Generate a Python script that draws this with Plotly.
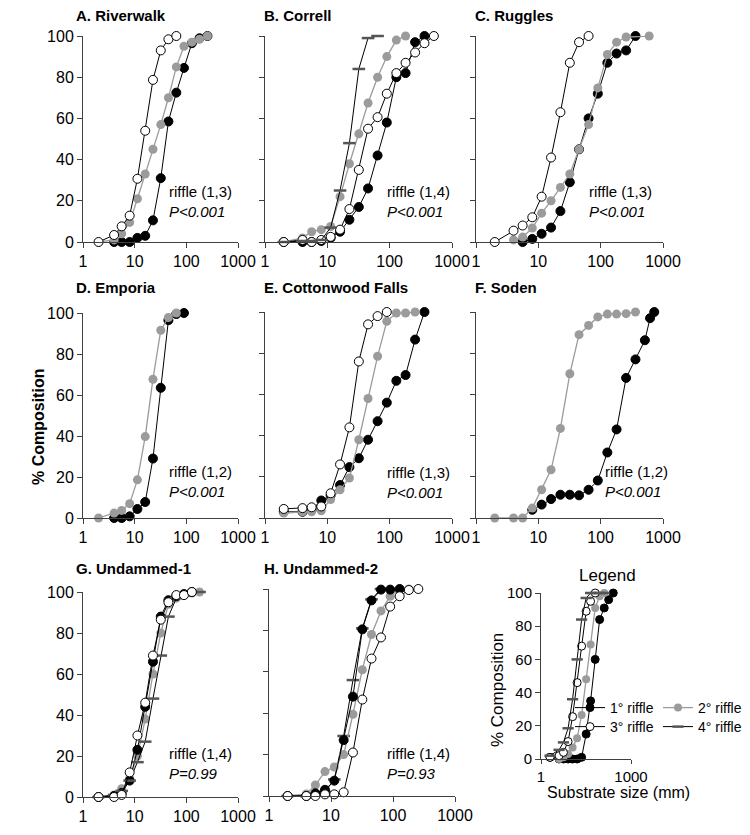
import plotly.graph_objects as go

W, H = 750, 835
FONT = "Arial, Liberation Sans, sans-serif"

# ---------------- data (x = substrate size in mm, y = cumulative % composition) ----------------
# A. Riverwalk
A1_x = [4, 5.6, 8, 11.3, 16, 22.6, 32, 45, 64, 90, 128, 180, 256]
A1_y = [0, 0, 0, 2, 3, 10.5, 31, 58.5, 72.5, 84.5, 96.5, 98.9, 100]
A2_x = [2, 4, 5.6, 8, 11.3, 16, 22.6, 32, 45, 64, 90, 128, 180, 256]
A2_y = [0, 1, 4, 9.5, 21, 33, 45, 57, 70, 85, 95, 97, 98.4, 100]
A3_x = [2, 4, 5.6, 8, 11.3, 16, 22.6, 32, 45, 64]
A3_y = [0, 3.4, 7.6, 12.8, 30.7, 54, 78.7, 93, 98.4, 100]

# B. Correll
B1_x = [2, 4, 5.6, 8, 11.3, 16, 22.6, 32, 45, 64, 90, 128, 180, 256, 362]
B1_y = [0, 0, 0, 0.5, 2, 5, 10.8, 17, 26, 42, 58, 80, 82, 97, 100]
B2_x = [2, 4, 5.6, 8, 11.3, 16, 22.6, 32, 45, 64, 90, 128, 180]
B2_y = [0, 2, 5, 6, 7.5, 22, 38, 52.5, 67.5, 80, 90, 98, 100]
B3_x = [2, 4, 5.6, 8, 11.3, 16, 22.6, 32, 45, 64, 90, 128, 180, 256, 362, 512]
B3_y = [0, 1, 0, 1, 2.5, 6, 16, 35, 55, 60.6, 72, 82, 87, 92, 96.5, 100]
B4_x = [2, 4, 5.6, 8, 11.3, 16, 22.6, 32, 45, 64]
B4_y = [0, 0.5, 0.5, 1, 7, 25, 48, 84, 99, 100]

# C. Ruggles
C1_x = [5.6, 8, 11.3, 16, 22.6, 32, 45, 64, 90, 128, 180, 256, 362]
C1_y = [0, 1.5, 4, 7, 15, 29, 45, 60, 72, 87, 91.5, 93, 100]
C2_x = [4, 5.6, 8, 11.3, 16, 22.6, 32, 45, 64, 90, 128, 180, 256, 600]
C2_y = [1, 2.4, 6.8, 14, 20, 26.5, 33, 45, 57, 74.8, 91, 97, 99.5, 100]
C3_x = [2, 4, 5.6, 8, 11.3, 16, 22.6, 32, 45, 64]
C3_y = [0, 5.5, 8, 12, 22, 41, 63, 87, 97, 100]

# D. Emporia
D1_x = [4, 5.6, 8, 11.3, 16, 22.6, 32, 45, 64, 90]
D1_y = [0, 0, 0.8, 4.4, 7.8, 29, 63.5, 96.5, 99.5, 100]
D2_x = [2, 4, 5.6, 8, 11.3, 16, 22.6, 32, 45, 64]
D2_y = [0, 2.4, 3.7, 7, 18.6, 39.7, 67.7, 91.6, 97.8, 100]

# E. Cottonwood Falls
E1_x = [2, 4, 5.6, 8, 11.3, 16, 22.6, 32, 45, 64, 90, 128, 180, 256, 362]
E1_y = [3, 3, 4, 8.5, 11, 16, 24.7, 29, 38, 47, 56, 66.6, 69.4, 86.6, 100]
E2_x = [2, 4, 5.6, 8, 11.3, 16, 22.6, 32, 45, 64, 90, 128, 180, 256]
E2_y = [2.4, 3, 3, 3.5, 9, 13.7, 19.4, 38, 58, 78.5, 95.5, 99.5, 99.5, 100]
E3_x = [2, 4, 5.6, 8, 11.3, 16, 22.6, 32, 45, 64, 90]
E3_y = [4.4, 4.8, 5.2, 5.6, 12, 26, 44, 76, 94, 98, 100]

# F. Soden
F1_x = [8, 11.3, 16, 22.6, 32, 45, 64, 90, 128, 180, 256, 362, 512, 620, 724]
F1_y = [4, 6.5, 9.2, 11.3, 11.3, 11, 13.7, 18.2, 31.8, 43, 68, 77, 86.3, 97, 100]
F2_x = [2, 4, 5.6, 8, 11.3, 16, 22.6, 32, 45, 64, 90, 128, 180, 256, 362]
F2_y = [0, 0, 0, 4.8, 13.7, 23.4, 43.5, 70, 89, 93.5, 97.6, 99, 99, 99.2, 100]

# G. Undammed-1
G1_x = [2, 4, 5.6, 8, 11.3, 16, 22.6, 32, 45, 64, 90, 128]
G1_y = [0, 0.5, 2, 8, 23, 44, 66, 88, 96, 98, 99, 100]
G2_x = [2, 4, 5.6, 8, 11.3, 16, 22.6, 32, 45, 64, 90, 128, 180]
G2_y = [0, 1, 4, 9, 20, 38, 60, 80, 94, 97, 98.5, 99.5, 100]
G3_x = [2, 4, 5.6, 8, 11.3, 16, 22.6, 32, 45, 64, 90, 128]
G3_y = [0, 0, 1, 12, 30, 46, 69, 86.5, 95, 98.5, 98.5, 100]
G4_x = [2, 4, 5.6, 8, 11.3, 16, 22.6, 32, 45, 64, 90, 128, 180]
G4_y = [0, 1, 3, 8, 17, 27, 48, 69, 88, 97, 99, 100, 100]

# H. Undammed-2
H1_x = [2, 4, 5.6, 8, 11.3, 16, 22.6, 32, 45, 64, 90, 128]
H1_y = [0, 0, 1.3, 3, 7.4, 27, 48, 80.5, 94.5, 99.7, 99.7, 100]
H2_x = [2, 4, 5.6, 8, 11.3, 16, 22.6, 32, 45, 64, 90, 128, 180]
H2_y = [0, 1, 5.3, 11.8, 14, 20, 39.5, 61, 78, 89.4, 96.5, 100, 100]
H3_x = [2, 4, 5.6, 8, 11.3, 16, 22.6, 32, 45, 64, 90, 128, 180, 256]
H3_y = [0, 0, 0, 0.8, 0.8, 1.8, 21, 46.6, 66.4, 76.6, 91.5, 96.5, 99.5, 100]
H4_x = [2, 4, 5.6, 8, 11.3, 16, 22.6, 32, 45, 64, 90, 128]
H4_y = [0, 0, 1, 2, 8, 29, 56, 81, 95, 100, 100, 100]

# Legend panel
L1_x = [2, 4, 5.6, 8, 11.3, 16, 22.6, 32, 45, 64, 90, 128, 180, 256]
L1_y = [1, 0, 0, 0, 0, 0, 1, 15, 35, 60, 84, 91, 96, 100]
L2_x = [4, 5.6, 8, 11.3, 16, 22.6, 32, 45, 64, 90, 128]
L2_y = [0, 1, 3, 7, 12.5, 26.5, 48, 69, 91, 98, 100]
L3_x = [2, 4, 5.6, 8, 11.3, 16, 22.6, 32, 45, 64]
L3_y = [1, 2, 4, 10.5, 25.5, 46, 68, 89, 95, 100]
L4_x = [2, 4, 5.6, 8, 11.3, 16, 22.6, 32, 45, 64, 90, 128]
L4_y = [2, 5.5, 10, 18.5, 36, 60, 84, 97, 100, 100, 100, 100]

TITLES = ["A. Riverwalk", "B. Correll", "C. Ruggles", "D. Emporia", "E. Cottonwood Falls",
          "F. Soden", "G. Undammed-1", "H. Undammed-2"]
TESTS = ["riffle (1,3)", "riffle (1,4)", "riffle (1,3)", "riffle (1,2)", "riffle (1,3)",
         "riffle (1,2)", "riffle (1,4)", "riffle (1,4)"]
PVALS = ["P&lt;0.001", "P&lt;0.001", "P&lt;0.001", "P&lt;0.001", "P&lt;0.001",
         "P&lt;0.001", "P=0.99", "P=0.93"]
SERIES_NAMES = ["1° riffle", "2° riffle", "3° riffle", "4° riffle"]
X_TICKS = [1, 10, 100, 1000]
Y_TICKS = [0, 20, 40, 60, 80, 100]

panels = [
    {"1": (A1_x, A1_y), "2": (A2_x, A2_y), "3": (A3_x, A3_y)},
    {"1": (B1_x, B1_y), "2": (B2_x, B2_y), "3": (B3_x, B3_y), "4": (B4_x, B4_y)},
    {"1": (C1_x, C1_y), "2": (C2_x, C2_y), "3": (C3_x, C3_y)},
    {"1": (D1_x, D1_y), "2": (D2_x, D2_y)},
    {"1": (E1_x, E1_y), "2": (E2_x, E2_y), "3": (E3_x, E3_y)},
    {"1": (F1_x, F1_y), "2": (F2_x, F2_y)},
    {"2": (G2_x, G2_y), "1": (G1_x, G1_y), "4": (G4_x, G4_y), "3": (G3_x, G3_y)},
    {"4": (H4_x, H4_y), "2": (H2_x, H2_y), "1": (H1_x, H1_y), "3": (H3_x, H3_y)},
    {"1": (L1_x, L1_y), "2": (L2_x, L2_y), "3": (L3_x, L3_y), "4": (L4_x, L4_y)},
]

# ---------------- layout geometry (pixels: left, right, top, bottom of plot area) ----------------
boxes = [
    (83, 238, 36, 242), (265, 452, 36, 242), (476, 663, 36, 242),
    (83, 238, 313, 518), (265, 452, 312, 518), (476, 663, 312, 518),
    (83, 238, 592, 797), (269, 455, 589, 796), (541, 631, 593, 759),
]
title_pos = [(74, 15), (262, 15), (473, 15), (74, 287), (262, 287), (473, 287), (74, 568), (262, 568)]
stat_pos = [(167, 202), (385, 202), (587, 201), (167, 481), (385, 482), (603, 481), (167, 763), (385, 763)]

AX_COLOR = "#404040"


def style(key, small=False):
    sz = 8 if small else 9
    if key == "1":
        return dict(marker=dict(color="black", size=sz, line=dict(color="black", width=1)),
                    line=dict(color="black", width=1))
    if key == "2":
        return dict(marker=dict(color="#9b9b9b", size=sz, line=dict(width=0)),
                    line=dict(color="#9b9b9b", width=1.3))
    if key == "3":
        return dict(marker=dict(color="white", size=sz, line=dict(color="black", width=1)),
                    line=dict(color="black", width=1))
    return dict(marker=dict(symbol="line-ew", size=sz, color="#555555", line=dict(color="#555555", width=2.5)),
                line=dict(color="black", width=1))


fig = go.Figure()
for i, series in enumerate(panels):
    n = i + 1
    xa = "x" if n == 1 else f"x{n}"
    ya = "y" if n == 1 else f"y{n}"
    is_leg = (i == 8)
    for key, (xs, ys) in series.items():
        st = style(key, small=is_leg)
        tr = dict(x=xs, y=ys, mode="lines+markers", xaxis=xa, yaxis=ya, cliponaxis=False,
                  name=SERIES_NAMES[int(key) - 1], showlegend=is_leg, hoverinfo="x+y", **st)
        if is_leg:
            tr["legend"] = "legend" if key in ("1", "2") else "legend2"
            tr["legendrank"] = int(key)
        fig.add_trace(go.Scatter(**tr))

layout = dict(
    template="none",
    width=W, height=H, margin=dict(l=0, r=0, t=0, b=0, pad=0, autoexpand=False),
    paper_bgcolor="white", plot_bgcolor="white",
    font=dict(family=FONT, size=16, color="black"),
)
for i, (x0, x1, yt, yb) in enumerate(boxes):
    n = i + 1
    xk = "xaxis" if n == 1 else f"xaxis{n}"
    yk = "yaxis" if n == 1 else f"yaxis{n}"
    xa = "x" if n == 1 else f"x{n}"
    ya = "y" if n == 1 else f"y{n}"
    is_leg = (i == 8)
    no_ylabels = i in (1, 2, 4, 5, 7)
    fsz = 15 if is_leg else 16
    layout[xk] = dict(
        domain=[x0 / W, x1 / W], anchor=ya, type="log", range=[0, 3], automargin=False,
        tickvals=[1, 1000] if is_leg else X_TICKS,
        ticktext=["1", "1000"] if is_leg else [str(v) for v in X_TICKS],
        showline=True, linecolor=AX_COLOR, linewidth=1, ticks="outside", ticklen=4 if is_leg else 5,
        tickcolor=AX_COLOR, showgrid=False, zeroline=False,
        tickfont=dict(size=fsz, family=FONT),
    )
    layout[yk] = dict(
        domain=[1 - yb / H, 1 - yt / H], anchor=xa, range=[0, 100], automargin=False,
        tickvals=Y_TICKS, showticklabels=not no_ylabels,
        showline=True, linecolor=AX_COLOR, linewidth=1, ticks="outside", ticklen=5,
        tickcolor=AX_COLOR, showgrid=False, zeroline=False,
        tickfont=dict(size=fsz, family=FONT),
    )


def ann(text, px, py, size, xanchor="center", angle=0):
    return dict(text=text, x=px / W, y=1 - py / H, xref="paper", yref="paper",
                xanchor=xanchor, yanchor="middle", align="left", textangle=angle,
                showarrow=False, font=dict(size=size, family=FONT))


annotations = []
for i, t in enumerate(TITLES):
    px, py = title_pos[i]
    annotations.append(ann(f"<b>{t}</b>", px, py, 15, xanchor="left"))
for i, t in enumerate(TESTS):
    px, py = stat_pos[i]
    annotations.append(ann(f"{t}<br><i>{PVALS[i]}</i>", px, py, 15, xanchor="left"))
annotations.append(ann("<b>% Composition</b>", 38, 427, 16, angle=-90))
annotations.append(ann("Legend", 607, 575, 17))
annotations.append(ann("Substrate size (mm)", 618, 792, 16))
annotations.append(ann("% Composition", 497, 690, 17, angle=-90))
layout["annotations"] = annotations

leg_common = dict(orientation="h", xanchor="left", yanchor="middle", bgcolor="rgba(0,0,0,0)",
                  font=dict(size=14, family=FONT), itemwidth=30, tracegroupgap=0,
                  traceorder="normal", entrywidthmode="pixels", entrywidth=43)
layout["legend"] = dict(x=570 / W, y=1 - 708 / H, **leg_common)
layout["legend2"] = dict(x=570 / W, y=1 - 727 / H, **leg_common)

fig.update_layout(**layout)
fig.write_html("out.html", config={"displayModeBar": False},
               post_script="document.body.style.margin='0px';document.body.style.overflow='hidden';")
